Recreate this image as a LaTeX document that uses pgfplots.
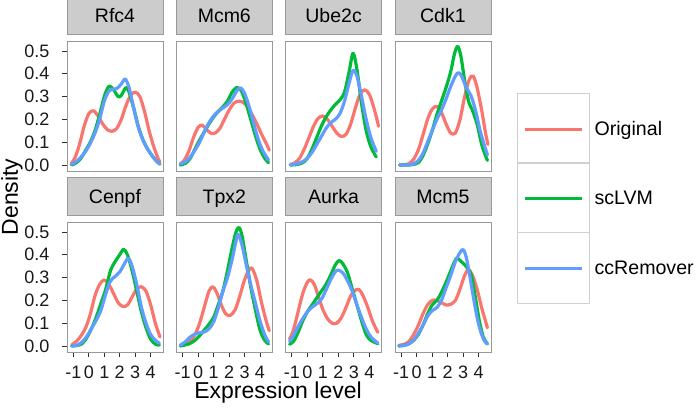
\documentclass[border=0pt]{standalone}
\usepackage{fontspec}
\setmainfont{Liberation Sans}
\usepackage{pgfplots}
\pgfplotsset{compat=1.18}
\definecolor{cred}{HTML}{F8766D}
\definecolor{cgreen}{HTML}{00BA38}
\definecolor{cblue}{HTML}{619CFF}
\definecolor{stripgray}{HTML}{CCCCCC}
\definecolor{bordergray}{HTML}{999999}
\definecolor{legbox}{HTML}{D0D0D0}
\definecolor{tickgray}{HTML}{333333}
\pgfplotsset{
  panel/.style={
    scale only axis, width=96pt, height=130pt,
    xmin=-1.407, xmax=4.795, ymin=-0.0263, ymax=0.5439,
    axis line style={draw=bordergray, line width=0.8pt},
    tick align=outside, tick pos=left, major tick length=5.5pt,
    tick style={draw=tickgray, line width=0.9pt},
    xtick=\empty, ytick=\empty,
    title style={at={(0.5,1)}, anchor=south, yshift=0pt, fill=stripgray, draw=bordergray, line width=0.8pt,
      minimum width=96pt, minimum height=38pt, inner sep=0pt, text height=14pt, text depth=0pt,
      font=\fontsize{19.5}{20}\selectfont},
    every axis plot/.append style={line width=3.2pt, smooth, line cap=round, line join=round},
  },
  leftcol/.style={ytick={0,0.1,0.2,0.3,0.4,0.5}, yticklabels={0.0,0.1,0.2,0.3,0.4,0.5},
    yticklabel style={font=\fontsize{18}{18}\selectfont, inner sep=0pt, anchor=east, text=black!90},
    yticklabel shift=12pt},
  botrow/.style={xtick={-1,0,1,2,3,4}, xticklabels={-1,0,1,2,3,4},
    xticklabel style={font=\fontsize{18}{18}\selectfont, inner sep=0pt, anchor=north, text=black!90},
    xticklabel shift=8.5pt},
}
\begin{document}
\begin{tikzpicture}[x=1pt,y=1pt]
% ---------- top row ----------
\begin{axis}[panel, leftcol, at={(67pt,241pt)}, anchor=south west, title={Rfc4}]
\addplot[cred] coordinates {(-1.15,0.005) (-0.9,0.03) (-0.6,0.09) (-0.3,0.17) (0.0,0.225) (0.3,0.238) (0.6,0.215) (0.9,0.18) (1.2,0.155) (1.5,0.148) (1.8,0.16) (2.1,0.2) (2.4,0.26) (2.7,0.305) (3.0,0.32) (3.3,0.3) (3.6,0.235) (3.9,0.15) (4.2,0.08) (4.5,0.025) (4.6,0.015)};
\addplot[cgreen] coordinates {(-1.1,0.0) (-0.8,0.01) (-0.5,0.03) (-0.2,0.065) (0.1,0.1) (0.4,0.15) (0.7,0.22) (1.0,0.3) (1.3,0.345) (1.6,0.33) (1.9,0.30) (2.1,0.305) (2.4,0.34) (2.6,0.32) (2.9,0.25) (3.2,0.17) (3.5,0.11) (3.8,0.07) (4.1,0.04) (4.4,0.015) (4.6,0.005)};
\addplot[cblue] coordinates {(-1.1,0.003) (-0.8,0.015) (-0.5,0.035) (-0.2,0.06) (0.1,0.095) (0.4,0.14) (0.7,0.2) (1.0,0.28) (1.3,0.325) (1.5,0.332) (1.8,0.335) (2.1,0.355) (2.35,0.377) (2.6,0.34) (2.9,0.25) (3.2,0.165) (3.5,0.11) (3.8,0.07) (4.1,0.04) (4.4,0.015) (4.6,0.003)};
\end{axis}
\begin{axis}[panel, at={(176.3pt,241pt)}, anchor=south west, title={Mcm6}]
\addplot[cred] coordinates {(-1.15,0.005) (-0.9,0.02) (-0.6,0.06) (-0.3,0.12) (0.0,0.165) (0.25,0.175) (0.5,0.16) (0.8,0.14) (1.1,0.14) (1.4,0.16) (1.7,0.2) (2.0,0.24) (2.3,0.27) (2.6,0.28) (2.9,0.275) (3.2,0.255) (3.5,0.22) (3.8,0.18) (4.1,0.135) (4.4,0.095) (4.6,0.065)};
\addplot[cgreen] coordinates {(-1.15,0.0) (-0.8,0.008) (-0.5,0.03) (-0.2,0.07) (0.1,0.11) (0.4,0.145) (0.7,0.18) (1.0,0.21) (1.3,0.235) (1.6,0.255) (1.9,0.28) (2.2,0.32) (2.5,0.34) (2.8,0.325) (3.1,0.27) (3.4,0.2) (3.7,0.13) (4.0,0.07) (4.3,0.03) (4.55,0.01)};
\addplot[cblue] coordinates {(-1.15,0.005) (-0.8,0.015) (-0.5,0.035) (-0.2,0.065) (0.1,0.1) (0.4,0.145) (0.7,0.185) (1.0,0.215) (1.3,0.235) (1.6,0.25) (1.9,0.265) (2.2,0.29) (2.5,0.325) (2.75,0.338) (3.0,0.315) (3.3,0.255) (3.6,0.18) (3.9,0.11) (4.2,0.06) (4.55,0.022)};
\end{axis}
\begin{axis}[panel, at={(285.6pt,241pt)}, anchor=south west, title={Ube2c}]
\addplot[cred] coordinates {(-1.1,0.002) (-0.8,0.01) (-0.5,0.03) (-0.2,0.07) (0.1,0.12) (0.4,0.17) (0.7,0.205) (1.0,0.215) (1.3,0.2) (1.6,0.17) (1.9,0.14) (2.2,0.125) (2.5,0.135) (2.8,0.18) (3.1,0.25) (3.4,0.31) (3.7,0.33) (4.0,0.31) (4.3,0.25) (4.6,0.17)};
\addplot[cgreen] coordinates {(-1.1,0.0) (-0.7,0.002) (-0.3,0.01) (0.0,0.03) (0.3,0.07) (0.6,0.12) (0.9,0.17) (1.2,0.21) (1.5,0.24) (1.8,0.265) (2.1,0.285) (2.4,0.32) (2.7,0.41) (2.95,0.49) (3.2,0.42) (3.5,0.27) (3.8,0.15) (4.1,0.08) (4.45,0.035)};
\addplot[cblue] coordinates {(-1.1,0.002) (-0.7,0.005) (-0.3,0.015) (0.0,0.03) (0.3,0.055) (0.6,0.09) (0.9,0.125) (1.2,0.16) (1.5,0.185) (1.8,0.2) (2.1,0.225) (2.4,0.28) (2.7,0.36) (2.95,0.415) (3.2,0.39) (3.5,0.3) (3.8,0.2) (4.1,0.12) (4.45,0.06)};
\end{axis}
\begin{axis}[panel, at={(394.9pt,241pt)}, anchor=south west, title={Cdk1}]
\addplot[cred] coordinates {(-1.1,0.0) (-0.8,0.002) (-0.5,0.006) (-0.2,0.025) (0.1,0.065) (0.4,0.13) (0.7,0.2) (1.0,0.245) (1.3,0.257) (1.6,0.23) (1.9,0.18) (2.2,0.14) (2.5,0.14) (2.8,0.2) (3.1,0.3) (3.4,0.375) (3.65,0.39) (3.9,0.34) (4.2,0.24) (4.45,0.14) (4.6,0.09)};
\addplot[cgreen] coordinates {(-1.1,0.0) (-0.5,0.0) (-0.2,0.003) (0.1,0.01) (0.4,0.04) (0.7,0.09) (1.0,0.15) (1.3,0.22) (1.6,0.28) (1.9,0.34) (2.2,0.41) (2.45,0.49) (2.65,0.52) (2.85,0.48) (3.1,0.37) (3.35,0.28) (3.6,0.24) (3.9,0.18) (4.2,0.09) (4.45,0.04) (4.57,0.02)};
\addplot[cblue] coordinates {(-1.1,0.0) (-0.5,0.001) (-0.2,0.005) (0.1,0.02) (0.4,0.05) (0.7,0.1) (1.0,0.15) (1.3,0.2) (1.6,0.24) (1.9,0.29) (2.2,0.345) (2.5,0.39) (2.7,0.405) (2.9,0.39) (3.2,0.34) (3.5,0.305) (3.8,0.24) (4.1,0.15) (4.4,0.08) (4.57,0.045)};
\end{axis}
% ---------- bottom row ----------
\begin{axis}[panel, leftcol, botrow, at={(67pt,60pt)}, anchor=south west, title={Cenpf}]
\addplot[cred] coordinates {(-1.1,0.005) (-0.8,0.02) (-0.5,0.045) (-0.2,0.08) (0.1,0.14) (0.4,0.22) (0.7,0.27) (1.0,0.29) (1.3,0.27) (1.6,0.23) (1.9,0.19) (2.2,0.173) (2.5,0.18) (2.8,0.215) (3.1,0.25) (3.4,0.26) (3.7,0.24) (4.0,0.18) (4.3,0.1) (4.6,0.04)};
\addplot[cgreen] coordinates {(-1.1,0.0) (-0.7,0.003) (-0.4,0.012) (-0.1,0.04) (0.2,0.08) (0.5,0.13) (0.8,0.19) (1.1,0.25) (1.4,0.33) (1.7,0.37) (2.0,0.4) (2.25,0.424) (2.5,0.4) (2.8,0.33) (3.1,0.24) (3.4,0.15) (3.7,0.08) (4.0,0.03) (4.3,0.008) (4.56,0.004)};
\addplot[cblue] coordinates {(-1.1,0.0) (-0.7,0.005) (-0.4,0.02) (-0.1,0.045) (0.2,0.08) (0.5,0.115) (0.8,0.16) (1.1,0.23) (1.4,0.285) (1.7,0.305) (2.0,0.325) (2.3,0.36) (2.55,0.385) (2.8,0.35) (3.1,0.27) (3.4,0.17) (3.7,0.1) (4.0,0.05) (4.3,0.025) (4.56,0.012)};
\end{axis}
\begin{axis}[panel, botrow, at={(176.3pt,60pt)}, anchor=south west, title={Tpx2}]
\addplot[cred] coordinates {(-1.15,0.003) (-0.8,0.01) (-0.5,0.02) (-0.2,0.05) (0.1,0.1) (0.4,0.17) (0.7,0.24) (0.95,0.26) (1.2,0.235) (1.5,0.18) (1.8,0.14) (2.1,0.135) (2.4,0.16) (2.7,0.22) (3.0,0.29) (3.3,0.335) (3.5,0.34) (3.8,0.285) (4.1,0.19) (4.4,0.11) (4.6,0.067)};
\addplot[cgreen] coordinates {(-1.15,0.0) (-0.8,0.005) (-0.5,0.012) (-0.2,0.025) (0.1,0.045) (0.4,0.07) (0.7,0.095) (1.0,0.125) (1.3,0.18) (1.6,0.24) (1.9,0.33) (2.2,0.43) (2.45,0.5) (2.65,0.52) (2.85,0.48) (3.1,0.38) (3.4,0.26) (3.7,0.16) (4.0,0.07) (4.3,0.025) (4.55,0.009)};
\addplot[cblue] coordinates {(-1.15,0.003) (-0.8,0.02) (-0.5,0.04) (-0.2,0.052) (0.1,0.058) (0.4,0.062) (0.7,0.075) (1.0,0.105) (1.3,0.165) (1.6,0.24) (1.9,0.3) (2.2,0.38) (2.45,0.46) (2.6,0.49) (2.85,0.44) (3.1,0.36) (3.4,0.27) (3.7,0.19) (4.0,0.11) (4.3,0.05) (4.55,0.018)};
\end{axis}
\begin{axis}[panel, botrow, at={(285.6pt,60pt)}, anchor=south west, title={Aurka}]
\addplot[cred] coordinates {(-1.15,0.03) (-0.9,0.07) (-0.6,0.15) (-0.3,0.23) (0.0,0.28) (0.2,0.29) (0.45,0.27) (0.7,0.22) (1.0,0.16) (1.3,0.12) (1.6,0.1) (1.9,0.1) (2.2,0.125) (2.5,0.17) (2.8,0.22) (3.1,0.245) (3.35,0.247) (3.6,0.22) (3.9,0.17) (4.2,0.11) (4.55,0.06)};
\addplot[cgreen] coordinates {(-1.15,0.008) (-0.9,0.02) (-0.6,0.06) (-0.3,0.11) (0.0,0.15) (0.3,0.18) (0.6,0.21) (0.9,0.24) (1.2,0.27) (1.5,0.31) (1.8,0.355) (2.05,0.375) (2.3,0.36) (2.6,0.32) (2.9,0.25) (3.2,0.18) (3.5,0.11) (3.8,0.05) (4.1,0.025) (4.55,0.01)};
\addplot[cblue] coordinates {(-1.15,0.02) (-0.9,0.045) (-0.6,0.085) (-0.3,0.12) (0.0,0.15) (0.3,0.17) (0.6,0.185) (0.9,0.205) (1.2,0.245) (1.5,0.29) (1.8,0.325) (2.0,0.333) (2.3,0.32) (2.6,0.285) (2.9,0.24) (3.2,0.18) (3.5,0.125) (3.8,0.075) (4.1,0.04) (4.55,0.013)};
\end{axis}
\begin{axis}[panel, botrow, at={(394.9pt,60pt)}, anchor=south west, title={Mcm5},
  legend cell align=left,
  legend style={at={(axis description cs:1.2719,1.9923)}, anchor=north west, draw=none, fill=none,
    inner sep=0pt, outer sep=0pt, row sep=-2.9pt, column sep=4.5pt,
    nodes={inner sep=0pt, outer sep=0pt},
    font=\fontsize{19.6}{20}\selectfont},
  legend image code/.code={
    \draw[draw=legbox, line width=1.4pt, fill=white] (0pt,-35.5pt) rectangle (71.7pt,35.5pt);
    \draw[#1, line width=3pt, line cap=butt] (7.3pt,0pt) -- (64.7pt,0pt);
  }]
\addplot[cred] coordinates {(-1.15,0.003) (-0.8,0.008) (-0.5,0.02) (-0.2,0.05) (0.1,0.09) (0.4,0.14) (0.7,0.18) (1.0,0.2) (1.3,0.2) (1.6,0.19) (1.9,0.18) (2.2,0.183) (2.5,0.2) (2.8,0.25) (3.1,0.31) (3.35,0.335) (3.6,0.31) (3.9,0.25) (4.2,0.167) (4.4,0.12) (4.57,0.08)};
\addplot[cgreen] coordinates {(-1.15,0.0) (-0.8,0.003) (-0.5,0.01) (-0.2,0.025) (0.1,0.05) (0.4,0.09) (0.7,0.14) (1.0,0.18) (1.3,0.2) (1.6,0.235) (1.9,0.28) (2.2,0.33) (2.45,0.37) (2.6,0.386) (2.8,0.375) (3.05,0.36) (3.3,0.34) (3.55,0.305) (3.8,0.21) (4.05,0.11) (4.3,0.04) (4.57,0.009)};
\addplot[cblue] coordinates {(-1.15,0.0) (-0.8,0.003) (-0.5,0.01) (-0.2,0.025) (0.1,0.055) (0.4,0.09) (0.7,0.13) (1.0,0.155) (1.3,0.168) (1.6,0.2) (1.9,0.255) (2.2,0.31) (2.5,0.37) (2.8,0.41) (3.0,0.423) (3.2,0.39) (3.45,0.3) (3.7,0.2) (3.95,0.11) (4.2,0.05) (4.4,0.02) (4.57,0.009)};
\legend{Original,scLVM,ccRemover}
\end{axis}
% axis titles
\node[font=\fontsize{23}{24}\selectfont, rotate=90, inner sep=0pt] at (12pt,215pt) {Density};
\node[font=\fontsize{23}{24}\selectfont, inner sep=0pt] at (278pt,19pt) {Expression level};
\pgfresetboundingbox
\path (0pt,0pt) rectangle (697pt,412pt);
\end{tikzpicture}
\end{document}
